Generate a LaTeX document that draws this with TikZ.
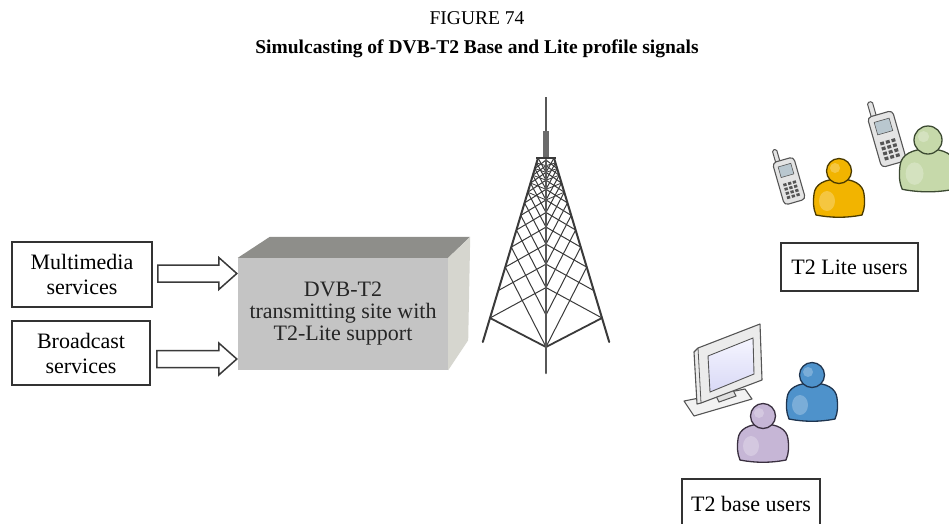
\documentclass[tikz,border=0pt]{standalone}
\usepackage{fontspec}
\setmainfont{Liberation Serif}
\usetikzlibrary{calc}
\definecolor{boxline}{HTML}{333333}
\definecolor{arrowline}{HTML}{3A3A3A}
\definecolor{towerline}{HTML}{3A3A3A}
\definecolor{frontface}{HTML}{C4C4C4}
\definecolor{topface}{HTML}{8E8E8A}
\definecolor{sideface}{HTML}{D6D6CF}
\definecolor{phonebody}{HTML}{E4E4E4}
\definecolor{phoneline}{HTML}{555555}
\definecolor{phonescreen}{HTML}{B9C7CF}
\definecolor{yellowuser}{HTML}{F2B400}
\definecolor{yellowline}{HTML}{4A3A00}
\definecolor{greenuser}{HTML}{C6D9AA}
\definecolor{greenline}{HTML}{3C4A32}
\definecolor{blueuser}{HTML}{4E92CB}
\definecolor{blueline}{HTML}{1F3550}
\definecolor{purpleuser}{HTML}{C6B6D6}
\definecolor{purpleline}{HTML}{3A3040}
\begin{document}
\begin{tikzpicture}[x=1pt,y=-1pt,
  svcbox/.style={draw=boxline, line width=1.8pt, fill=white,
    font=\fontsize{22}{25}\selectfont, align=center, inner sep=0pt},
  hollow/.style={draw=arrowline, line width=1.5pt, fill=white, line join=miter},
  leg/.style={draw=towerline, line width=2pt, line cap=round},
  brace/.style={draw=towerline, line width=1pt},
  pics/user/.style n args={2}{code={
    \path[fill=#1, draw=#2, line width=1.3pt, line join=round]
      (-23,44) .. controls (-26,37) and (-26,30) .. (-25,23)
      .. controls (-24,13) and (-14,8) .. (0,8)
      .. controls (14,8) and (24,13) .. (25,23)
      .. controls (26,30) and (26,37) .. (23,44)
      .. controls (8,47) and (-8,47) .. (-23,44) -- cycle;
    \path[fill=white, opacity=0.25] (-12,30) ellipse (8 and 10);
    \path[fill=#1, draw=#2, line width=1.3pt] (0,0) circle (12.5);
    \path[fill=white, opacity=0.25] (-4,-3) circle (5);
  }},
  pics/phone/.style={code={
    \path[fill=phonebody, draw=phoneline, line width=1pt, rounded corners=1.5pt]
      (-7,-18) rectangle (-3,-31);
    \path[fill=phonebody, draw=phoneline, line width=1.1pt, rounded corners=4pt]
      (-10,-20) rectangle (10,20);
    \path[fill=phonescreen, draw=phoneline, line width=0.6pt] (-6,-15) rectangle (6,-5);
    \foreach \i in {-1,0,1}
      \foreach \j in {0,...,3}
        \fill[phoneline] ({\i*4.5-1.5},{1+\j*4}) rectangle ++(3,2.5);
  }}
]
\useasboundingbox (0,0) rectangle (949,523);
\clip (0,0) rectangle (949,523);

% ---- titles
\node (fig) at (477,18) {\fontsize{19.5}{22}\selectfont FIGURE 74};
\node (ttl) at (477,49) {\fontsize{19.5}{22}\selectfont\bfseries Simulcasting of DVB-T2 Base and Lite profile signals};

% ---- service inputs
\node[svcbox, minimum width=140, minimum height=65] (mm) at (82,274.5) {Multimedia\\services};
\node[svcbox, minimum width=138, minimum height=64] (bc) at (81,353) {Broadcast\\services};

% ---- transmitting site (box drawn in perspective)
\node[fill=frontface, minimum width=210, minimum height=112, inner sep=0pt,
      font=\fontsize{22}{22}\selectfont, align=center, text=black!85] (site) at (343,314)
  {DVB-T2\\transmitting site with\\T2-Lite support};
\path[fill=topface] (site.north west) -- ++(32,-21) -- ($(site.north east)+(22,-21)$)
  -- (site.north east) -- cycle;
\path[fill=sideface] (site.north east) -- ++(22,-21) -- ($(site.south east)+(20,-30)$)
  -- (site.south east) -- cycle;

% ---- block arrows into the site
\path (mm.east) ++(5,-1) coordinate (a1s);
\coordinate (a1e) at (site.west |- a1s);
\path (bc.east) ++(6,6) coordinate (a2s);
\coordinate (a2e) at (site.west |- a2s);
\foreach \s/\e in {a1s/a1e, a2s/a2e}
  \draw[hollow] ($(\s)+(0,-8.5)$) -- ($(\e)+(-19,-8.5)$) -- ($(\e)+(-19,-16)$)
    -- ($(\e)+(-1,0)$) -- ($(\e)+(-19,16)$) -- ($(\e)+(-19,8.5)$)
    -- ($(\s)+(0,8.5)$) -- cycle;

% ---- lattice tower: levels get closer towards the top
\coordinate (L0) at (538,158); \coordinate (Lr) at (490,318);
\coordinate (C0) at (546,160); \coordinate (Cr) at (546,347);
\coordinate (R0) at (554,158); \coordinate (Rr) at (602,318);
\foreach \k in {0,...,10} {
  \pgfmathsetmacro\a{(1.17^\k-1)/5.58}
  \pgfmathsetmacro\b{(1.17^(\k+2)-1)/5.58}
  \draw[brace] ($(L0)!\a!(Lr)$) -- ($(C0)!\b!(Cr)$);
  \draw[brace] ($(C0)!\a!(Cr)$) -- ($(L0)!\b!(Lr)$);
  \draw[brace] ($(R0)!\a!(Rr)$) -- ($(C0)!\b!(Cr)$);
  \draw[brace] ($(C0)!\a!(Cr)$) -- ($(R0)!\b!(Rr)$);
}
\foreach \k in {1,...,5} {
  \pgfmathsetmacro\a{(1.17^\k-1)/5.58}
  \draw[brace, line width=0.8pt] ($(L0)!\a!(Lr)$) -- ($(C0)!\a!(Cr)$) -- ($(R0)!\a!(Rr)$);
}
\draw[leg, line width=1.8pt] (Lr) -- (Cr) -- (Rr);
\draw[leg] (L0) -- ($(L0)!1.15!(Lr)$);
\draw[leg] (R0) -- ($(R0)!1.15!(Rr)$);
\draw[leg, line width=2.6pt, towerline!85] (C0) -- (546,373);
\draw[towerline!85, line width=2.5pt] (546,97) -- (546,132);
\draw[towerline!75, line width=6pt] (546,131) -- (546,158);
\draw[towerline, line width=1.8pt] (536,158) -- (556,158);

% ---- T2 Lite users
\pic[rotate=16, scale=1.1] (ph1) at (789,181) {phone};
\pic (u1) at (839,171) {user={yellowuser}{yellowline}};
\pic[rotate=16, scale=1.3] (ph2) at (887,139) {phone};
\pic[scale=1.12] (u2) at (928,140) {user={greenuser}{greenline}};
\node[svcbox, minimum width=137, minimum height=48] (lite) at (849.5,267) {T2 Lite users};

% ---- T2 base users: television set
\path[fill=black!5, draw=phoneline, line width=1.1pt, line join=round]
  (684,401) -- (745,389) -- (752,399) -- (694,416) -- cycle;
\path[fill=black!12, draw=phoneline, line width=1pt]
  (716,396) -- (733,390) -- (736,396) -- (719,402) -- cycle;
\path[fill=black!8, draw=phoneline, line width=1.1pt, line join=round]
  (694,352) -- (698,348) -- (760,324) -- (762,380) -- (701,403) -- (697,404) -- cycle;
\draw[phoneline, line width=0.8pt] (698,348) -- (701,403);
\shade[top color=white!80!blue!20, bottom color=black!25!blue!15, draw=phoneline, line width=0.9pt]
  (708,356) -- (753,338) -- (754,374) -- (710,392) -- cycle;
\pic (u3) at (812,375) {user={blueuser}{blueline}};
\pic (u4) at (763,416) {user={purpleuser}{purpleline}};
\node[svcbox, minimum width=138, minimum height=50] (base) at (751,504) {T2 base users};
\end{tikzpicture}
\end{document}
